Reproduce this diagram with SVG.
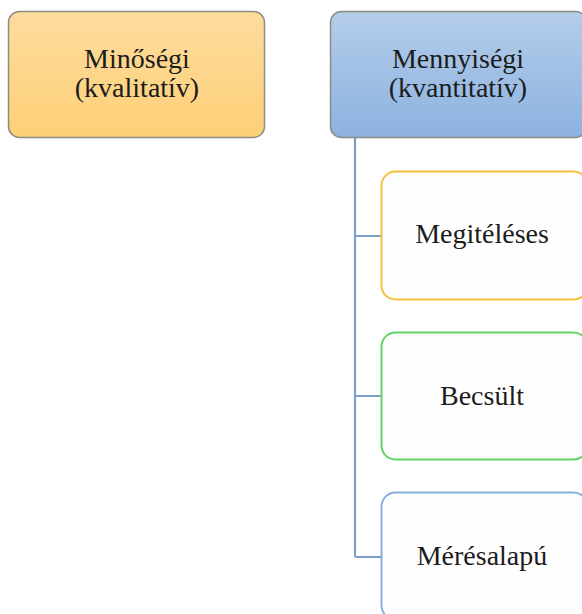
<svg xmlns="http://www.w3.org/2000/svg" width="582" height="614" viewBox="0 0 582 614">
  <defs>
    <linearGradient id="gOrange" x1="0" y1="0" x2="0" y2="1">
      <stop offset="0" stop-color="#fedc9e"/>
      <stop offset="1" stop-color="#fdd077"/>
    </linearGradient>
    <linearGradient id="gBlue" x1="0" y1="0" x2="0" y2="1">
      <stop offset="0" stop-color="#b4cdea"/>
      <stop offset="1" stop-color="#8cb2e0"/>
    </linearGradient>
    <style>
      .head { stroke: #8c8b84; stroke-width: 1.5; }
      .child { fill: #fefefe; stroke-width: 2; }
      .lbl { font-family: "Liberation Serif", "Times New Roman", serif; font-size: 28px; fill: #1c1c1c; text-anchor: middle; }
      .conn { stroke: #7e9fc8; stroke-width: 2.2; fill: none; }
    </style>
  </defs>

  <g id="connectors">
    <path class="conn" d="M355,138 V557 M355,236 H381 M355,396 H381 M355,557 H381"/>
  </g>

  <g id="minosegi">
    <rect class="head" x="8.5" y="11.5" width="256" height="126" rx="11" fill="url(#gOrange)"/>
    <text class="lbl" x="137" y="68">Minőségi</text>
    <text class="lbl" x="137" y="97">(kvalitatív)</text>
  </g>

  <g id="mennyisegi">
    <rect class="head" x="330.5" y="11.5" width="256" height="126" rx="11" fill="url(#gBlue)"/>
    <text class="lbl" x="458" y="68">Mennyiségi</text>
    <text class="lbl" x="458" y="97">(kvantitatív)</text>
  </g>

  <g id="megiteleses">
    <rect class="child" x="381.5" y="171.5" width="206" height="128" rx="14" stroke="#f5c040"/>
    <text class="lbl" x="482" y="243">Megitéléses</text>
  </g>

  <g id="becsult">
    <rect class="child" x="381.5" y="332.5" width="206" height="127" rx="14" stroke="#60d468"/>
    <text class="lbl" x="482" y="405">Becsült</text>
  </g>

  <g id="meresalapu">
    <rect class="child" x="381.5" y="492.5" width="206" height="127" rx="14" stroke="#86afdc"/>
    <text class="lbl" x="482" y="565">Mérésalapú</text>
  </g>
</svg>
